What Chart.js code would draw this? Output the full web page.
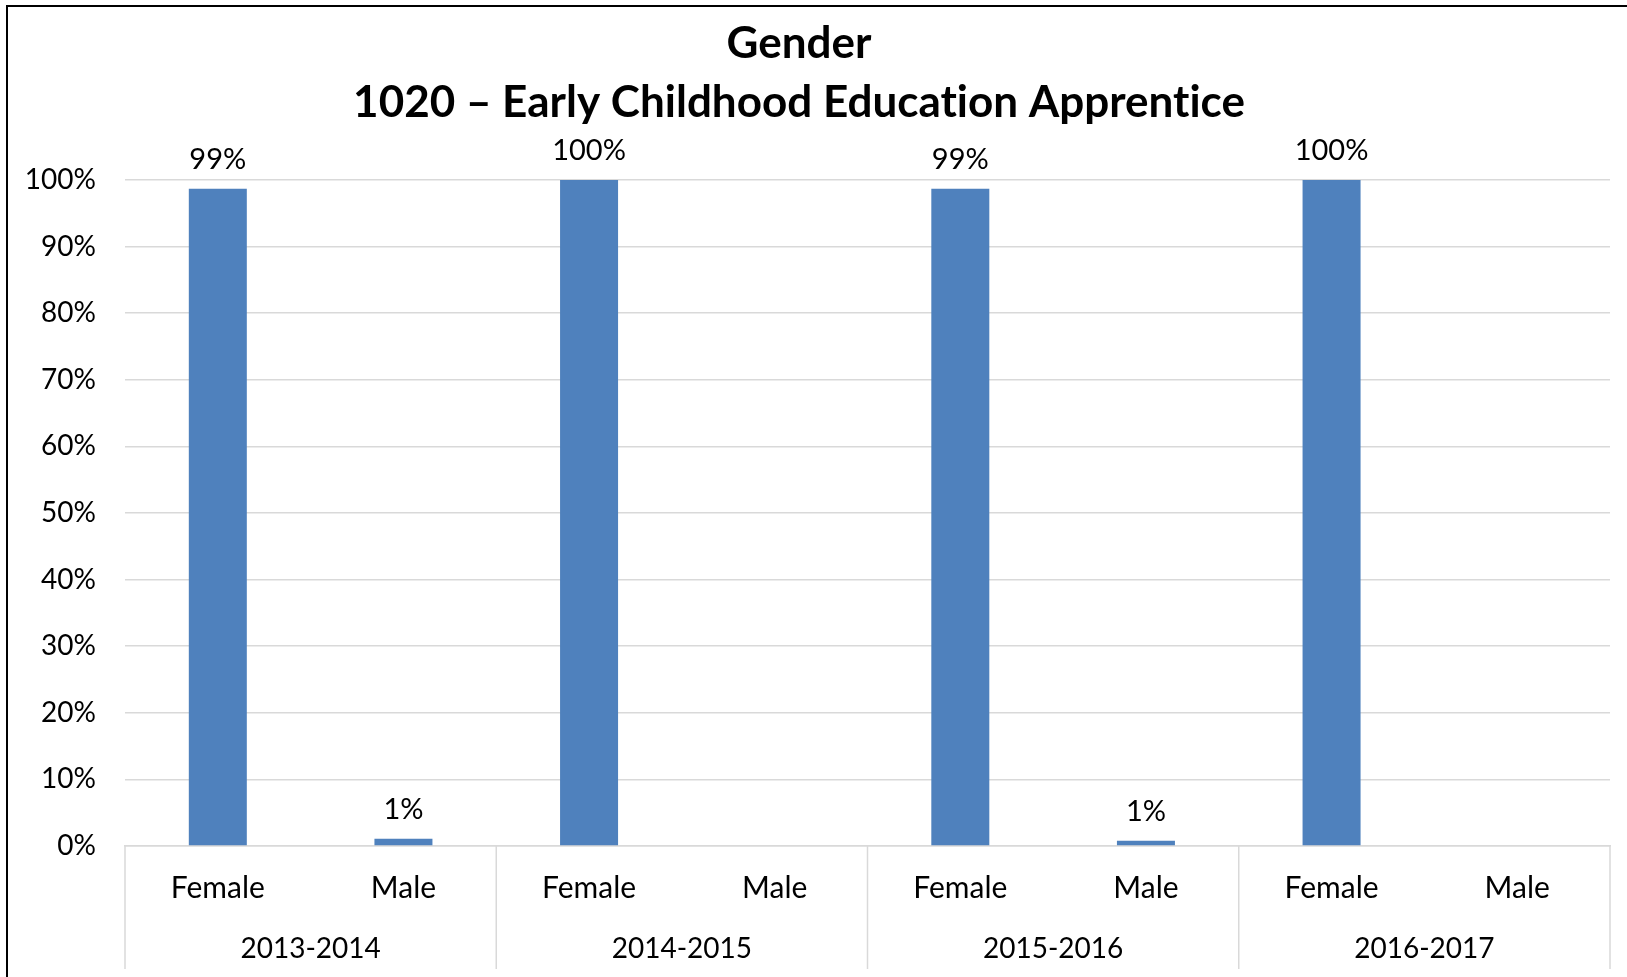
<!DOCTYPE html>
<html>
<head>
<meta charset="utf-8">
<script src="https://cdn.jsdelivr.net/npm/chart.js@4"></script>
<style>
  html, body { margin: 0; padding: 0; background: #fff; }
  #wrap { position: relative; width: 1627px; height: 977px; }
  canvas { font-variant-ligatures: none; }
</style>
</head>
<body>
<div id="wrap"><canvas id="c"></canvas></div>
<script>
const titleLines = ['Gender', '1020 \u2013 Early Childhood Education Apprentice'];
const years = ['2013-2014', '2014-2015', '2015-2016', '2016-2017'];
const genders = ['Female', 'Male'];
const femaleValues = [98.7, 100, 98.7, 100];
const maleValues = [1.1, 0, 0.8, 0];
const yTicks = [0, 10, 20, 30, 40, 50, 60, 70, 80, 90, 100];

const labels = [];
const values = [];
years.forEach((y, i) => {
  labels.push(genders[0]); values.push(femaleValues[i]);
  labels.push(genders[1]); values.push(maleValues[i]);
});

const FONT = 'Lato';
const GRID = '#D9D9D9';

const decor = {
  id: 'decor',
  beforeInit(chart) {
    try { chart.ctx.textRendering = 'optimizeSpeed'; } catch (e) {}
  },
  beforeDraw(chart) {
    const ctx = chart.ctx;
    try { ctx.textRendering = 'optimizeSpeed'; } catch (e) {}
    ctx.save();
    ctx.fillStyle = '#000';
    ctx.fillRect(6, 5, chart.width, 2);
    ctx.fillRect(6, 5, 2, chart.height);
    ctx.restore();
  },
  afterDraw(chart) {
    const ctx = chart.ctx;
    const xs = chart.scales.x;
    const area = chart.chartArea;
    const n = labels.length;
    const bounds = [xs.left];
    for (let i = 2; i < n; i += 2) {
      bounds.push((xs.getPixelForValue(i - 1) + xs.getPixelForValue(i)) / 2);
    }
    bounds.push(xs.right);
    ctx.save();
    ctx.strokeStyle = GRID;
    ctx.lineWidth = 1.5;
    bounds.forEach(b => {
      ctx.beginPath();
      ctx.moveTo(b, area.bottom);
      ctx.lineTo(b, 969);
      ctx.stroke();
    });
    ctx.restore();
  },
  afterDatasetsDraw(chart) {
    const ctx = chart.ctx;
    const meta = chart.getDatasetMeta(0);
    ctx.save();
    ctx.font = '29px ' + FONT;
    ctx.fillStyle = '#000';
    ctx.textAlign = 'center';
    ctx.textBaseline = 'middle';
    meta.data.forEach((el, i) => {
      const v = values[i];
      if (!v) return;
      ctx.fillText(Math.round(v) + '%', el.x, el.y - 29);
    });
    ctx.restore();
  }
};

new Chart(document.getElementById('c'), {
  type: 'bar',
  data: {
    labels: labels,
    datasets: [{
      data: values,
      backgroundColor: '#4F81BD',
      borderWidth: 0,
      barPercentage: 0.3125,
      categoryPercentage: 1.0
    }]
  },
  options: {
    responsive: true,
    maintainAspectRatio: false,
    animation: false,
    devicePixelRatio: 1,
    layout: { padding: { left: -12, right: 17, top: 0, bottom: 0 } },
    plugins: {
      legend: { display: false },
      tooltip: { enabled: false },
      title: {
        display: true,
        text: titleLines,
        color: '#000',
        font: { family: FONT, size: 44, weight: 'bold', lineHeight: 1.341 },
        padding: { top: 14, bottom: 48 }
      }
    },
    scales: {
      y: {
        min: 0, max: 100,
        afterBuildTicks(scale) { scale.ticks = yTicks.map(v => ({ value: v })); },
        afterFit(scale) { scale.width = 137; },
        grid: { color: GRID, lineWidth: 1.5, drawTicks: false },
        border: { display: false },
        ticks: {
          padding: 29,
          color: '#000',
          font: { family: FONT, size: 28 },
          callback: v => v + '%'
        }
      },
      x: {
        weight: 0,
        offset: true,
        afterFit(scale) { scale.height = 70; },
        grid: { display: false, drawTicks: false },
        border: { display: true, color: GRID, width: 1.5 },
        ticks: {
          padding: 27,
          maxRotation: 0,
          autoSkip: false,
          color: '#000',
          font: { family: FONT, size: 30, lineHeight: 1.0 }
        }
      },
      x2: {
        type: 'category',
        position: 'bottom',
        weight: 1,
        labels: years,
        offset: true,
        afterFit(scale) { scale.height = 61; },
        grid: { display: false, drawTicks: false },
        border: { display: false },
        ticks: {
          padding: 18,
          maxRotation: 0,
          autoSkip: false,
          color: '#000',
          font: { family: FONT, size: 28, lineHeight: 1.1 }
        }
      }
    }
  },
  plugins: [decor]
});
</script>
</body>
</html>
